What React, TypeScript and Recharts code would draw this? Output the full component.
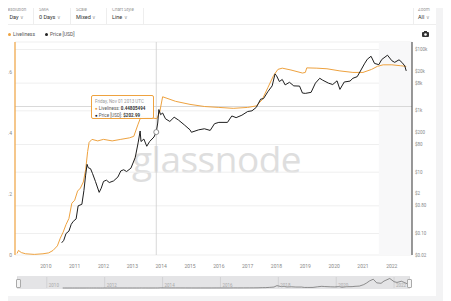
import React from 'react'
import {
  LineChart,
  Line,
  XAxis,
  YAxis,
  CartesianGrid,
  ReferenceLine,
  ReferenceArea,
  ReferenceDot,
} from 'recharts'

// liveliness (left axis), year fraction -> value
const livelinessYears = [
  2009.0, 2009.05, 2009.15, 2009.3, 2009.6, 2009.9, 2010.1, 2010.25, 2010.4, 2010.5,
  2010.6, 2010.7, 2010.8, 2010.9, 2011.0, 2011.1, 2011.2, 2011.3, 2011.38, 2011.45,
  2011.5, 2011.6, 2011.8, 2012.0, 2012.3, 2012.6, 2012.9, 2013.05, 2013.2, 2013.3,
  2013.5, 2013.7, 2013.85, 2013.95, 2014.05, 2014.2, 2014.5, 2015.0, 2015.5, 2016.0,
  2016.5, 2017.0, 2017.3, 2017.5, 2017.7, 2017.9, 2018.05, 2018.2, 2018.5, 2018.9,
  2019.0, 2019.05, 2019.4, 2019.75, 2020.2, 2020.65, 2021.0, 2021.3, 2021.5, 2021.7,
  2022.0, 2022.3, 2022.5,
]
const livelinessValues = [
  0.005, 0.015, 0.008, 0.004, 0.002, 0.004, 0.007, 0.015, 0.03, 0.055,
  0.075, 0.1, 0.12, 0.17, 0.18, 0.21, 0.22, 0.24, 0.28, 0.34,
  0.37, 0.38, 0.375, 0.38, 0.375, 0.38, 0.385, 0.39, 0.43, 0.455,
  0.452, 0.45, 0.448, 0.47, 0.52, 0.515, 0.505, 0.495, 0.488, 0.485,
  0.482, 0.485, 0.49, 0.51, 0.55, 0.59, 0.61, 0.614, 0.608, 0.598,
  0.6, 0.615, 0.614, 0.612, 0.605, 0.6, 0.6, 0.61, 0.62, 0.625,
  0.625, 0.622, 0.62,
]

// price in USD (right axis, log)
const priceYears = [
  2010.55, 2010.62, 2010.7, 2010.8, 2010.88, 2010.95, 2011.05, 2011.12, 2011.25, 2011.32,
  2011.38, 2011.43, 2011.47, 2011.55, 2011.62, 2011.72, 2011.85, 2011.92, 2012.0, 2012.1,
  2012.2, 2012.35, 2012.5, 2012.6, 2012.7, 2012.8, 2012.95, 2013.1, 2013.2, 2013.27,
  2013.3, 2013.4, 2013.5, 2013.6, 2013.75, 2013.83, 2013.88, 2013.92, 2013.98, 2014.05,
  2014.15, 2014.3, 2014.45, 2014.6, 2014.8, 2015.0, 2015.05, 2015.3, 2015.5, 2015.7,
  2015.85, 2016.0, 2016.3, 2016.45, 2016.6, 2016.8, 2017.0, 2017.15, 2017.3, 2017.45,
  2017.55, 2017.7, 2017.85, 2017.95, 2018.0, 2018.1, 2018.2, 2018.3, 2018.45, 2018.6,
  2018.8, 2018.9, 2019.0, 2019.2, 2019.35, 2019.5, 2019.6, 2019.8, 2019.95, 2020.1,
  2020.2, 2020.35, 2020.55, 2020.65, 2020.8, 2020.95, 2021.05, 2021.15, 2021.28, 2021.4,
  2021.55, 2021.65, 2021.85, 2022.0, 2022.1, 2022.25, 2022.35, 2022.45, 2022.5,
]
const priceValues = [
  0.05, 0.06, 0.1, 0.12, 0.2, 0.25, 0.3, 0.8, 0.9, 2.5,
  8, 18, 14, 13, 9, 5, 2.2, 3, 5, 5.5,
  4.6, 5.2, 7, 11, 12, 10.5, 13.5, 30, 90, 220,
  100, 120, 70, 100, 140, 203, 400, 1100, 750, 850,
  550, 450, 620, 500, 350, 240, 200, 240, 260, 230,
  380, 420, 420, 680, 600, 720, 950, 1000, 1300, 2400,
  2500, 4200, 6500, 16000, 14000, 9000, 10500, 7000, 8500, 6500,
  6400, 3800, 3700, 4000, 8000, 11500, 10000, 8000, 7200, 9500,
  5000, 8700, 9300, 11500, 13000, 23000, 34000, 48000, 60000, 35000,
  32000, 47000, 65000, 43000, 38000, 46000, 38000, 29000, 20000,
]

const yearTicks = [2010, 2011, 2012, 2013, 2014, 2015, 2016, 2017, 2018, 2019, 2020, 2021, 2022]
const navTicks = [2010, 2012, 2014, 2016, 2018, 2020, 2022]
const livelinessTicks = [0, 0.2, 0.4, 0.6]
const priceTicks = [0.02, 0.06, 0.1, 0.4, 0.8, 2, 6, 10, 40, 80, 200, 600, 1000, 4000, 8000, 20000, 60000, 100000]

const livelinessData = livelinessYears.map((t, i) => ({ t, v: livelinessValues[i] }))
const priceData = priceYears.map((t, i) => ({ t, p: priceValues[i] }))

const ORANGE = '#eea23f'
const FONT = 'Roboto, "Liberation Sans", sans-serif'

const fmtPrice = (v: number) => {
  if (v >= 1000) return `$${v / 1000}k`
  if (v < 1) return `$${v.toFixed(2)}`
  return `$${v}`
}

const header = [
  { x: 5, label: 'Resolution', value: '1 Day' },
  { x: 39, label: 'SMA', value: '0 Days' },
  { x: 76, label: 'Scale', value: 'Mixed' },
  { x: 112, label: 'Chart Style', value: 'Line' },
  { x: 418, label: 'Zoom', value: 'All' },
]
const separators = [33, 70, 106, 143, 413]

const LeftTick = (props: any) => {
  const { x, y, payload } = props
  return (
    <text x={x} y={y} dy="0.35em" textAnchor="end" fontSize={5} fill="#888" fontFamily={FONT}>
      {String(payload.value)}
    </text>
  )
}

const NavTick = (props: any) => {
  const { x, payload } = props
  return (
    <text x={x + 2} y={11} fontSize={4.5} fill="#aaa" fontFamily={FONT}>
      {payload.value}
    </text>
  )
}

const App = () => {
  return (
    <div
      style={{
        position: 'relative',
        width: 451,
        height: 301,
        margin: '-8px 0 0 -8px',
        background: '#f3f3f4',
        overflow: 'hidden',
        fontFamily: FONT,
      }}
    >
      <div style={{ position: 'absolute', left: 0, top: 0, width: 436, height: 296, background: '#fff' }} />
      <div style={{ position: 'absolute', left: 447, top: 0, width: 4, height: 195, background: '#c8c8c8' }} />

      {/* header controls */}
      <div style={{ position: 'absolute', left: 0, top: 3, width: 436, height: 1, background: '#eee' }} />
      <div style={{ position: 'absolute', left: 0, top: 24, width: 436, height: 1, background: '#eee' }} />
      {separators.map((x) => (
        <div key={x} style={{ position: 'absolute', left: x, top: 3, width: 1, height: 21, background: '#eee' }} />
      ))}
      {header.map((h) => (
        <React.Fragment key={h.label}>
          <div style={{ position: 'absolute', left: h.x, top: 7, fontSize: 4.5, color: '#999', lineHeight: '6px', whiteSpace: 'nowrap' }}>
            {h.label}
          </div>
          <div style={{ position: 'absolute', left: h.x, top: 13, fontSize: 5.5, color: '#333', lineHeight: '8px', whiteSpace: 'nowrap' }}>
            {h.value} <span style={{ color: '#999', fontSize: 4.5 }}>∨</span>
          </div>
        </React.Fragment>
      ))}

      {/* legend */}
      <div style={{ position: 'absolute', left: 8, top: 31, display: 'flex', alignItems: 'center', fontSize: 5, color: '#555' }}>
        <span style={{ width: 3, height: 3, borderRadius: 2, background: ORANGE, marginRight: 2 }} />
        <span style={{ marginRight: 10 }}>Liveliness</span>
        <span style={{ width: 3, height: 3, borderRadius: 2, background: '#222', marginRight: 2 }} />
        <span>Price [USD]</span>
      </div>
      <svg style={{ position: 'absolute', left: 422, top: 31 }} width={7} height={6}>
        <rect x={0} y={1} width={7} height={5} rx={1} fill="#333" />
        <rect x={2} y={0} width={3} height={2} fill="#333" />
        <circle cx={3.5} cy={3.5} r={1.3} fill="#fff" />
      </svg>

      {/* watermark */}
      <div
        style={{
          position: 'absolute',
          left: 132,
          top: 133,
          fontSize: 37,
          color: '#dedede',
          letterSpacing: -0.5,
          fontFamily: '"Open Sans", sans-serif',
        }}
      >
        glassnode
      </div>

      <div style={{ position: 'absolute', left: 0, top: 0 }}>
        <LineChart width={436} height={270} margin={{ top: 42, right: 0, bottom: 0, left: 0 }}>
          <CartesianGrid yAxisId="right" vertical={false} stroke="#efefef" />
          <ReferenceArea yAxisId="left" x1={2021.55} x2={2022.7} fill="#f8f8f9" fillOpacity={1} />
          <XAxis
            dataKey="t"
            type="number"
            domain={[2008.93, 2022.7]}
            ticks={yearTicks}
            allowDataOverflow
            axisLine={false}
            tickLine={false}
            tickMargin={3}
            height={15}
            tick={{ fontSize: 5, fill: '#888', fontFamily: FONT }}
          />
          <YAxis
            yAxisId="left"
            orientation="left"
            domain={[0, 0.7]}
            ticks={livelinessTicks}
            width={15}
            axisLine={{ stroke: ORANGE, strokeWidth: 1.2 }}
            tickLine={false}
            tickSize={0}
            tickMargin={3}
            tick={<LeftTick />}
          />
          <YAxis
            yAxisId="right"
            orientation="right"
            scale="log"
            domain={[0.02, 175000]}
            ticks={priceTicks}
            allowDataOverflow
            width={24}
            axisLine={{ stroke: '#333', strokeWidth: 1 }}
            tickLine={false}
            tickSize={0}
            tickMargin={3}
            tickFormatter={fmtPrice}
            tick={{ fontSize: 4.5, fill: '#888', fontFamily: FONT, textAnchor: 'start' }}
          />
          <ReferenceLine yAxisId="left" y={0.488} stroke="#cfcfcf" strokeWidth={0.8} />
          <ReferenceLine yAxisId="left" x={2013.83} stroke="#cfcfcf" strokeWidth={0.8} />
          <Line
            yAxisId="left"
            data={livelinessData}
            dataKey="v"
            stroke={ORANGE}
            strokeWidth={1}
            dot={false}
            isAnimationActive={false}
          />
          <Line
            yAxisId="right"
            data={priceData}
            dataKey="p"
            stroke="#1e1e1e"
            strokeWidth={1}
            dot={false}
            isAnimationActive={false}
          />
          <ReferenceDot yAxisId="right" x={2013.83} y={203} r={2.5} fill="#fff" stroke="#777" strokeWidth={0.8} />
        </LineChart>
      </div>

      {/* tooltip */}
      <div
        style={{
          position: 'absolute',
          left: 91,
          top: 95,
          width: 63,
          height: 24,
          border: `1px solid ${ORANGE}`,
          borderRadius: 2,
          background: 'rgba(255,255,255,0.92)',
          fontSize: 4.5,
          color: '#555',
          padding: '2px 3px',
          boxSizing: 'border-box',
          lineHeight: '7px',
        }}
      >
        <div style={{ color: '#999' }}>Friday, Nov 01 2013 UTC</div>
        <div>
          <span style={{ color: ORANGE }}>●</span> Liveliness: <b style={{ color: '#333' }}>0.44805494</b>
        </div>
        <div>
          <span style={{ color: '#222' }}>●</span> Price [USD]: <b style={{ color: '#333' }}>$202.99</b>
        </div>
      </div>

      {/* navigator */}
      <div style={{ position: 'absolute', left: 17, top: 276, width: 393, height: 13, background: '#e4e4e6' }} />
      <div style={{ position: 'absolute', left: 17, top: 276 }}>
        <LineChart width={393} height={13} margin={{ top: 1, right: 0, bottom: 0, left: 0 }}>
          <CartesianGrid horizontal={false} stroke="#d2d2d4" />
          <XAxis
            dataKey="t"
            type="number"
            domain={[2008.97, 2022.55]}
            ticks={navTicks}
            allowDataOverflow
            axisLine={false}
            tickLine={false}
            height={1}
            tick={<NavTick />}
          />
          <YAxis hide domain={[0, 75000]} />
          <Line
            data={priceData}
            dataKey="p"
            stroke="#666"
            strokeWidth={0.7}
            dot={false}
            isAnimationActive={false}
          />
        </LineChart>
      </div>
      <div style={{ position: 'absolute', left: 16, top: 279, width: 3, height: 7, background: '#f4f4f4', border: '1px solid #aaa', borderRadius: 1 }} />
      <div style={{ position: 'absolute', left: 407, top: 279, width: 3, height: 7, background: '#f4f4f4', border: '1px solid #aaa', borderRadius: 1 }} />
    </div>
  )
}

export default App
